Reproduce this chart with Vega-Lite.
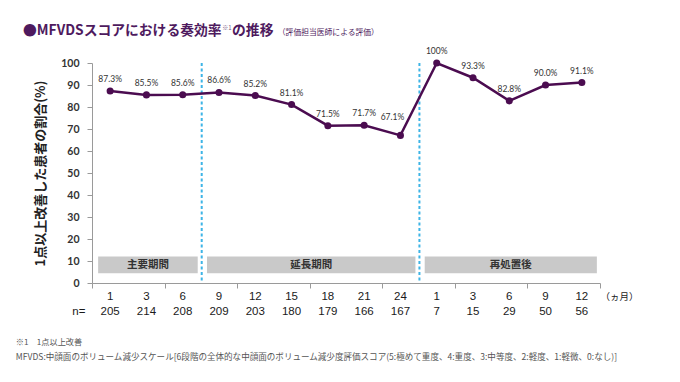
{
  "$schema": "https://vega.github.io/schema/vega-lite/v6.json",
  "width": 508,
  "height": 220,
  "autosize": {"type": "none"},
  "padding": {"left": 92, "top": 63, "right": 80, "bottom": 99},
  "background": "white",
  "config": {"view": {"stroke": null}, "font": "Noto Sans CJK JP", "axisY": {"tickCount": 11, "labelOverlap": false}},
  "data": {
    "values": [
      {"order": 0, "month": "1", "n": 205, "rate": 87.3, "period": "主要期間"},
      {"order": 1, "month": "3", "n": 214, "rate": 85.5, "period": "主要期間"},
      {"order": 2, "month": "6", "n": 208, "rate": 85.6, "period": "主要期間"},
      {"order": 3, "month": "9", "n": 209, "rate": 86.6, "period": "延長期間"},
      {"order": 4, "month": "12", "n": 203, "rate": 85.2, "period": "延長期間"},
      {"order": 5, "month": "15", "n": 180, "rate": 81.1, "period": "延長期間"},
      {"order": 6, "month": "18", "n": 179, "rate": 71.5, "period": "延長期間"},
      {"order": 7, "month": "21", "n": 166, "rate": 71.7, "period": "延長期間"},
      {"order": 8, "month": "24", "n": 167, "rate": 67.1, "period": "延長期間"},
      {"order": 9, "month": "1", "n": 7, "rate": 100, "period": "再処置後"},
      {"order": 10, "month": "3", "n": 15, "rate": 93.3, "period": "再処置後"},
      {"order": 11, "month": "6", "n": 29, "rate": 82.8, "period": "再処置後"},
      {"order": 12, "month": "9", "n": 50, "rate": 90.0, "period": "再処置後"},
      {"order": 13, "month": "12", "n": 56, "rate": 91.1, "period": "再処置後"}
    ]
  },
  "layer": [
    {
      "transform": [
        {"aggregate": [
          {"op": "min", "field": "order", "as": "first"},
          {"op": "max", "field": "order", "as": "last"}
        ], "groupby": ["period"]}
      ],
      "mark": {"type": "rect", "color": "#c9c9c9", "xOffset": -12, "x2Offset": 15},
      "encoding": {
        "x": {
          "field": "first", "type": "quantitative",
          "scale": {"domain": [-0.5, 13.5], "nice": false, "zero": false},
          "axis": {
            "values": [-0.5, 0.5, 1.5, 2.5, 3.5, 4.5, 5.5, 6.5, 7.5, 8.5, 9.5, 10.5, 11.5, 12.5, 13.5],
            "labels": false, "title": null, "grid": false,
            "tickSize": 5, "tickColor": "#9a9a9a", "domainColor": "#9a9a9a", "tickWidth": 1, "domainWidth": 1
          }
        },
        "x2": {"field": "last"},
        "y": {
          "datum": 4.4, "type": "quantitative",
          "scale": {"domain": [0, 100], "nice": false},
          "axis": {
            "values": [0, 10, 20, 30, 40, 50, 60, 70, 80, 90, 100],
            "tickCount": 11,
            "labelOverlap": false,
            "grid": false, "tickSize": 5, "tickColor": "#9a9a9a", "domainColor": "#9a9a9a",
            "labelFont": "Lato", "labelFontSize": 10.5, "labelFontWeight": "bold", "labelColor": "#333333", "labelPadding": 8,
            "title": "1点以上改善した患者の割合(%)",
            "titleFont": "Noto Sans CJK JP", "titleFontSize": 13, "titleFontWeight": "bold", "titleColor": "#222222",
            "titleX": -52, "titleY": 110, "titleAngle": -90, "titleAlign": "center", "titleBaseline": "middle"
          }
        },
        "y2": {"datum": 12}
      }
    },
    {
      "transform": [
        {"aggregate": [{"op": "mean", "field": "order", "as": "mid"}], "groupby": ["period"]}
      ],
      "mark": {"type": "text", "fontSize": 10.5, "fontWeight": "bold", "color": "#333333", "baseline": "middle", "dx": 1.5},
      "encoding": {
        "x": {"field": "mid", "type": "quantitative"},
        "y": {"datum": 8.2, "type": "quantitative"},
        "text": {"field": "period"}
      }
    },
    {
      "transform": [
        {"aggregate": [{"op": "max", "field": "order", "as": "last"}], "groupby": ["period"]},
        {"filter": "datum.period !== '再処置後'"}
      ],
      "mark": {"type": "rule", "color": "#3db4e6", "strokeWidth": 2, "strokeDash": [3, 2.5], "xOffset": 19},
      "encoding": {
        "x": {"field": "last", "type": "quantitative"}
      }
    },
    {
      "mark": {"type": "line", "color": "#4b0c50", "strokeWidth": 2.5, "point": {"filled": true, "size": 50, "color": "#4b0c50"}},
      "encoding": {
        "x": {"field": "order", "type": "quantitative"},
        "y": {"field": "rate", "type": "quantitative"}
      }
    },
    {
      "transform": [
        {"filter": "datum.rate >= 70"},
        {"calculate": "datum.rate == 100 ? '100%' : format(datum.rate, '.1f') + '%'", "as": "label"}
      ],
      "mark": {"type": "text", "font": "Lato", "fontSize": 8.5, "color": "#333333", "dy": -12, "baseline": "middle"},
      "encoding": {
        "x": {"field": "order", "type": "quantitative"},
        "y": {"field": "rate", "type": "quantitative"},
        "text": {"field": "label"}
      }
    },
    {
      "transform": [
        {"filter": "datum.rate < 70"},
        {"calculate": "format(datum.rate, '.1f') + '%'", "as": "label"}
      ],
      "mark": {"type": "text", "font": "Lato", "fontSize": 8.5, "color": "#333333", "dy": -18, "dx": -8, "baseline": "middle"},
      "encoding": {
        "x": {"field": "order", "type": "quantitative"},
        "y": {"field": "rate", "type": "quantitative"},
        "text": {"field": "label"}
      }
    },
    {
      "mark": {"type": "text", "font": "Liberation Sans", "fontSize": 11.5, "color": "#1a1a1a", "dy": 14, "baseline": "middle"},
      "encoding": {
        "x": {"field": "order", "type": "quantitative"},
        "y": {"datum": 0, "type": "quantitative"},
        "text": {"field": "month"}
      }
    },
    {
      "mark": {"type": "text", "font": "Liberation Sans", "fontSize": 11.5, "color": "#1a1a1a", "dy": 29, "baseline": "middle"},
      "encoding": {
        "x": {"field": "order", "type": "quantitative"},
        "y": {"datum": 0, "type": "quantitative"},
        "text": {"field": "n"}
      }
    },
    {
      "data": {"values": [{"t": "n="}]},
      "mark": {"type": "text", "font": "Liberation Sans", "fontSize": 11.5, "color": "#1a1a1a", "dy": 29, "baseline": "middle"},
      "encoding": {
        "x": {"datum": -0.86, "type": "quantitative"},
        "y": {"datum": 0, "type": "quantitative"},
        "text": {"field": "t"}
      }
    },
    {
      "data": {"values": [{"t": "（ヵ月）"}]},
      "mark": {"type": "text", "fontSize": 9.5, "color": "#1a1a1a", "dy": 14, "baseline": "middle"},
      "encoding": {
        "x": {"datum": 14.04, "type": "quantitative"},
        "y": {"datum": 0, "type": "quantitative"},
        "text": {"field": "t"}
      }
    },
    {
      "data": {"values": [{"t": "●MFVDSスコアにおける奏効率"}]},
      "mark": {"type": "text", "fontSize": 13.8, "fontWeight": "bold", "color": "#4e1a5e", "align": "left", "baseline": "middle"},
      "encoding": {
        "x": {"datum": -2.4, "type": "quantitative"},
        "y": {"datum": 114.4, "type": "quantitative"},
        "text": {"field": "t"}
      }
    },
    {
      "data": {"values": [{"t": "※1"}]},
      "mark": {"type": "text", "fontSize": 6, "color": "#7a5a85", "align": "left", "baseline": "middle"},
      "encoding": {
        "x": {"datum": 3.087, "type": "quantitative"},
        "y": {"datum": 115.8, "type": "quantitative"},
        "text": {"field": "t"}
      }
    },
    {
      "data": {"values": [{"t": "の推移"}]},
      "mark": {"type": "text", "fontSize": 13.8, "fontWeight": "bold", "color": "#4e1a5e", "align": "left", "baseline": "middle"},
      "encoding": {
        "x": {"datum": 3.36, "type": "quantitative"},
        "y": {"datum": 114.4, "type": "quantitative"},
        "text": {"field": "t"}
      }
    },
    {
      "data": {"values": [{"t": "（評価担当医師による評価）"}]},
      "mark": {"type": "text", "fontSize": 7.8, "color": "#4e1a5e", "align": "left", "baseline": "middle"},
      "encoding": {
        "x": {"datum": 4.62, "type": "quantitative"},
        "y": {"datum": 113.6, "type": "quantitative"},
        "text": {"field": "t"}
      }
    },
    {
      "data": {"values": [{"t": "※1　1点以上改善"}]},
      "mark": {"type": "text", "fontSize": 8.2, "color": "#555555", "align": "left", "baseline": "middle", "dy": 59.7},
      "encoding": {
        "x": {"datum": -2.6, "type": "quantitative"},
        "y": {"datum": 0, "type": "quantitative"},
        "text": {"field": "t"}
      }
    },
    {
      "data": {"values": [{"t": "MFVDS:中顔面のボリューム減少スケール[6段階の全体的な中顔面のボリューム減少度評価スコア(5:極めて重度、4:重度、3:中等度、2:軽度、1:軽微、0:なし)]"}]},
      "mark": {"type": "text", "fontSize": 8.55, "color": "#555555", "align": "left", "baseline": "middle", "dy": 73.7},
      "encoding": {
        "x": {"datum": -2.6, "type": "quantitative"},
        "y": {"datum": 0, "type": "quantitative"},
        "text": {"field": "t"}
      }
    }
  ]
}
